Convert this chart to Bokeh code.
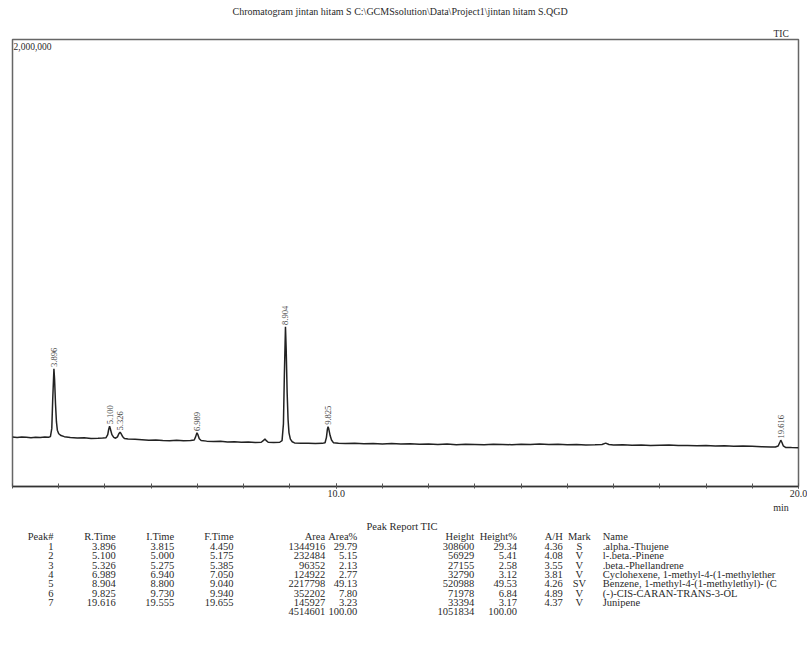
import numpy as np
from bokeh.plotting import figure
from bokeh.layouts import column
from bokeh.models import Range1d, FixedTicker, NumeralTickFormatter, Label
from bokeh.core.properties import value
from bokeh.embed import file_html
from bokeh.resources import INLINE

title_text = "Chromatogram jintan hitam S C:\\GCMSsolution\\Data\\Project1\\jintan hitam S.QGD"

# TIC trace: retention time (min), intensity (x1000 counts)
rt = [3.00, 3.10, 3.20, 3.30, 3.40, 3.50, 3.60, 3.70, 3.78,
      3.82, 3.85, 3.87, 3.896, 3.91, 3.93, 3.95, 3.97, 4.00, 4.05, 4.12,
      4.25, 4.40, 4.55, 4.70, 4.85, 4.95,
      5.02, 5.06, 5.08, 5.10, 5.12, 5.15, 5.19, 5.23,
      5.27, 5.30, 5.326, 5.35, 5.38, 5.42,
      5.50, 5.65, 5.80, 5.95, 6.10, 6.25, 6.40, 6.55, 6.70, 6.85, 6.93,
      6.96, 6.989, 7.01, 7.04, 7.08,
      7.20, 7.35, 7.50, 7.65, 7.80, 7.95, 8.10, 8.25, 8.38,
      8.43, 8.46, 8.49, 8.53, 8.65, 8.78,
      8.83, 8.86, 8.88, 8.904, 8.92, 8.94, 8.96, 8.98, 9.01, 9.05, 9.10,
      9.25, 9.40, 9.55, 9.70, 9.76,
      9.79, 9.81, 9.825, 9.84, 9.87, 9.90, 9.94,
      10.05, 10.2, 10.4, 10.6, 10.8, 11.0, 11.2, 11.4, 11.6, 11.8, 12.0, 12.2, 12.4, 12.6, 12.8,
      13.0, 13.2, 13.4, 13.6, 13.8, 14.0, 14.2, 14.4, 14.6, 14.8, 15.0, 15.2, 15.4, 15.6, 15.75,
      15.83, 15.9, 16.0, 16.2, 16.4, 16.6, 16.8, 17.0, 17.2, 17.4, 17.6, 17.8, 18.0, 18.2, 18.4,
      18.6, 18.8, 19.0, 19.2, 19.4, 19.5, 19.56, 19.60, 19.616, 19.64, 19.67, 19.72, 19.85, 20.0]
tic_k = [221, 219, 222, 220, 218, 220, 219, 221, 220,
         223, 260, 390, 527, 480, 370, 290, 252, 236, 228, 223,
         219, 217, 218, 215, 216, 217,
         218, 232, 255, 270, 255, 232, 220, 216,
         222, 236, 243, 236, 224, 215,
         213, 211, 209, 207, 208, 206, 205, 207, 205, 206, 208,
         222, 240, 232, 214, 206,
         203, 201, 202, 199, 200, 198, 199, 197, 198,
         206, 213, 205, 198, 197, 198,
         205, 280, 500, 715, 610, 420, 300, 240, 212, 200, 195,
         193, 194, 192, 193, 196,
         220, 255, 268, 258, 228, 208, 196,
         193, 192, 194, 191, 192, 190, 192, 190, 191, 189, 190, 188, 190, 187, 189,
         188, 187, 189, 188, 187, 189, 188, 190, 188, 189, 187, 188, 186, 187, 188,
         194, 188, 186, 187, 185, 186, 184, 185, 186, 183, 184, 182, 183, 181, 182,
         180, 181, 180, 178, 177, 177, 181, 199, 207, 198, 182, 175, 174, 173]

# peak report
peak_no = [1, 2, 3, 4, 5, 6, 7]
peak_rt = [3.896, 5.100, 5.326, 6.989, 8.904, 9.825, 19.616]
peak_top_k = [527, 270, 243, 240, 715, 268, 207]
i_time = [3.815, 5.000, 5.275, 6.940, 8.800, 9.730, 19.555]
f_time = [4.450, 5.175, 5.385, 7.050, 9.040, 9.940, 19.655]
area = [1344916, 232484, 96352, 124922, 2217798, 352202, 145927]
area_pct = [29.79, 5.15, 2.13, 2.77, 49.13, 7.80, 3.23]
height = [308600, 56929, 27155, 32790, 520988, 71978, 33394]
height_pct = [29.34, 5.41, 2.58, 3.12, 49.53, 6.84, 3.17]
a_h = [4.36, 4.08, 3.55, 3.81, 4.26, 4.89, 4.37]
mark = ["S", "V", "V", "V", "SV", "V", "V"]
names = [".alpha.-Thujene", "l-.beta.-Pinene", ".beta.-Phellandrene",
         "Cyclohexene, 1-methyl-4-(1-methylether",
         "Benzene, 1-methyl-4-(1-methylethyl)- (C",
         "(-)-CIS-CARAN-TRANS-3-OL", "Junipene"]

FONT = value("Liberation Serif")
INK = "#2a2a2a"
W = 807

tic = [v * 1000 for v in tic_k]


def bare(height, y0, y1):
    f = figure(width=W, height=height, x_range=Range1d(0, W), y_range=Range1d(y1, y0),
               x_axis_location=None, y_axis_location=None, toolbar_location=None,
               output_backend="svg", min_border=0)
    f.grid.visible = False
    f.outline_line_color = None
    return f


# header: file title and TIC
h = bare(37, 0, 37)
h.text(x=[398], y=[11], text=[title_text], text_align="center", text_baseline="middle",
       text_font=FONT, text_font_size="10px", text_color=INK)
h.text(x=[797], y=[33], text=["TIC"], text_align="right", text_baseline="middle",
       text_font=FONT, text_font_size="9.5px", text_color=INK)

# chromatogram
p = figure(width=W, height=465, x_range=Range1d(3.0, 20.0), y_range=Range1d(0, 2000000),
           y_axis_location=None, toolbar_location=None, output_backend="svg",
           min_border_left=12, min_border_right=9, min_border_top=2, min_border_bottom=16)
p.grid.visible = False
p.outline_line_color = "#666666"
p.outline_line_width = 1.5

p.line(rt, tic, line_color="#222222", line_width=1.5)

p.text(x=peak_rt, y=[v * 1000 + 8000 for v in peak_top_k], text=["%.3f" % t for t in peak_rt],
       angle=np.pi / 2, text_align="left", text_baseline="middle",
       text_font=FONT, text_font_size="8.5px", text_color="#444444")

xa = p.xaxis[0]
xa.ticker = FixedTicker(ticks=[10, 20], minor_ticks=list(range(3, 21)))
xa.formatter = NumeralTickFormatter(format="0.0")
xa.axis_line_color = "#333333"
xa.axis_line_width = 1.5
xa.major_tick_in = 3
xa.major_tick_out = 2
xa.minor_tick_in = 3
xa.minor_tick_out = 2
xa.major_tick_line_color = "#555555"
xa.minor_tick_line_color = "#555555"
xa.major_label_standoff = 1
xa.major_label_text_font = "Liberation Serif"
xa.major_label_text_font_size = "10px"
xa.major_label_text_color = INK

p.add_layout(Label(x=3.0, y=2000000, x_offset=1, y_offset=-3, text="2,000,000", text_align="left",
                   text_baseline="top", text_font="Liberation Serif", text_font_size="9.5px",
                   text_color=INK))

# peak report table (page pixel coordinates)
t = bare(162, 502, 664)
t.text(x=[797], y=[507], text=["min"], text_align="right", text_baseline="middle",
       text_font=FONT, text_font_size="10px", text_color=INK)

row_y = [546 + 9.3 * i for i in range(len(peak_no))]
total_y = 546 + 9.3 * len(peak_no)


def col(x, header, cells, align="right", total=None):
    ys = [536] + row_y
    txt = [header] + cells
    if total is not None:
        ys.append(total_y)
        txt.append(total)
    t.text(x=[x] * len(txt), y=ys, text=txt, text_align=align, text_baseline="middle",
           text_font=FONT, text_font_size="10.5px", text_color=INK)


t.text(x=[400], y=[526], text=["Peak Report TIC"], text_align="center", text_baseline="middle",
       text_font=FONT, text_font_size="10.5px", text_color=INK)
col(42, "Peak#", [str(n) for n in peak_no])
col(106, "R.Time", ["%.3f" % v for v in peak_rt])
col(166, "I.Time", ["%.3f" % v for v in i_time])
col(227, "F.Time", ["%.3f" % v for v in f_time])
col(321, "Area", [str(v) for v in area], total=str(sum(area)))
col(354, "Area%", ["%.2f" % v for v in area_pct], total="100.00")
col(474, "Height", [str(v) for v in height], total=str(sum(height)))
col(518, "Height%", ["%.2f" % v for v in height_pct], total="100.00")
col(565, "A/H", ["%.2f" % v for v in a_h])
col(582, "Mark", mark, align="center")
col(606, "Name", names, align="left")

page = column(h, p, t, spacing=0)
open("out.html", "w").write(file_html(page, INLINE, "Chromatogram"))
